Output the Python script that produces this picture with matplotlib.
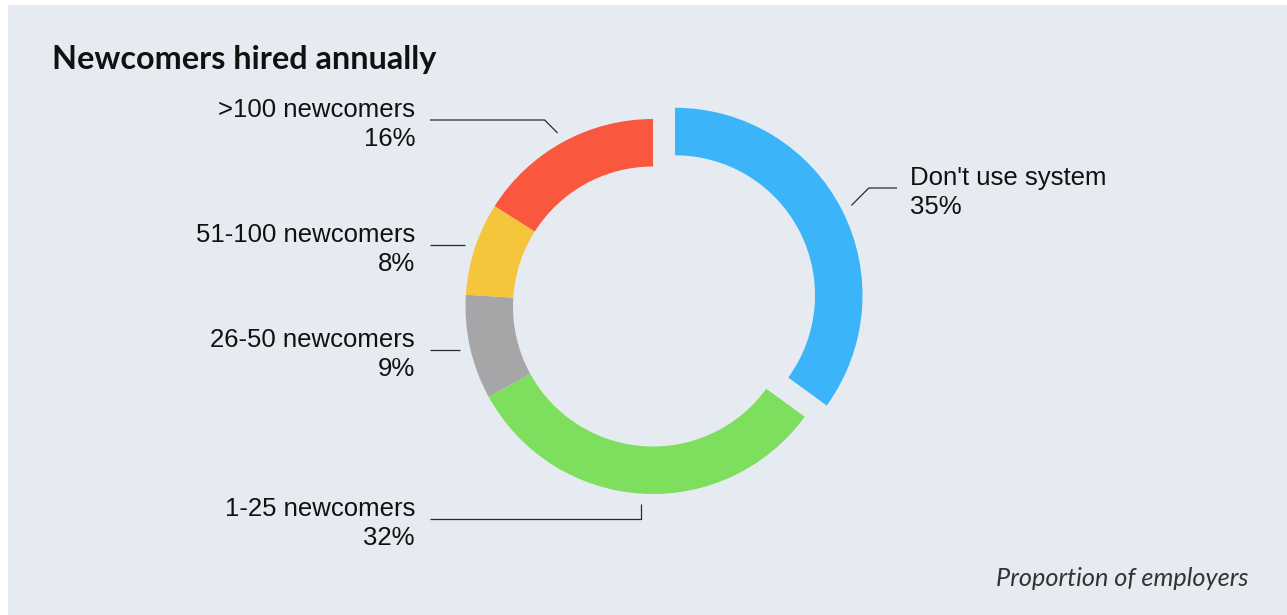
import numpy as np
import matplotlib.pyplot as plt
from matplotlib.patches import Rectangle

# Share of employers by number of newcomers hired per year
categories = ["Don't use system", "1-25 newcomers", "26-50 newcomers",
              "51-100 newcomers", ">100 newcomers"]
shares = [35, 32, 9, 8, 16]
colors = ['#3bb4fa', '#7ede5e', '#a6a6a8', '#f5c53b', '#fa583e']
explode = [24.7, 0, 0, 0, 0]

W, H = 1287, 615
fig = plt.figure(figsize=(W / 100, H / 100), dpi=100)
fig.patch.set_facecolor('white')
ax = fig.add_axes([0, 0, 1, 1])

bg = '#e5ebf0'
ax.add_patch(Rectangle((8, 0), W - 8, H - 5, facecolor=bg, edgecolor='none', zorder=0))

cx, cy = 653, H - 306.5
r_out, ring = 187.5, 47.5
wedges, _ = ax.pie(shares, colors=colors, explode=explode, startangle=90,
                   counterclock=False, radius=r_out, center=(cx, cy),
                   wedgeprops=dict(width=ring, linewidth=0), frame=True)
ax.set_xlim(0, W)
ax.set_ylim(0, H)
ax.set_aspect('equal')
ax.axis('off')

label_font = ['Liberation Sans', 'DejaVu Sans']
lc = '#2b2b2b'

# label layout: (side, text x, line y in px or None, elbow)
layout = {
    "Don't use system": ('right', 910, 188, 'diag'),
    "1-25 newcomers": ('left', 415, 519, 'vert'),
    "26-50 newcomers": ('left', 415, None, None),
    "51-100 newcomers": ('left', 415, None, None),
    ">100 newcomers": ('left', 415, 120, 'diag'),
}

for w, name, val in zip(wedges, categories, shares):
    mid = np.deg2rad((w.theta1 + w.theta2) / 2)
    wx, wy = w.center
    ax_x = wx + (r_out + 10.5) * np.cos(mid)
    ax_y = wy + (r_out + 10.5) * np.sin(mid)
    side, tx, ly, elbow = layout[name]
    ly = ax_y if ly is None else H - ly
    if elbow == 'diag':
        sgn = 1 if side == 'right' else -1
        ex_x = ax_x + sgn * abs(ly - ax_y)
    else:
        ex_x = ax_x
    end_x = tx - 13 if side == 'right' else tx + 15
    ax.plot([ax_x, ex_x, end_x], [ax_y, ly, ly], color=lc, lw=0.9,
            solid_capstyle='butt', zorder=3)
    ha = 'left' if side == 'right' else 'right'
    ax.text(tx, ly - 4.5, f"{name}\n{val}%", ha=ha, va='center',
            multialignment=ha, fontsize=18.5, linespacing=1.25,
            family=label_font, color='#111111')

ax.text(52, H - 59, 'Newcomers hired annually', ha='left', va='center',
        fontsize=23.3, fontweight='bold', family=['Lato', 'DejaVu Sans'], color='#111111')
ax.text(1249, H - 578, 'Proportion of employers', ha='right', va='center',
        fontsize=18.2, style='italic', family=['Lato', 'DejaVu Sans'], color='#333333')

fig.savefig('out.png', dpi=100, facecolor=fig.get_facecolor())
